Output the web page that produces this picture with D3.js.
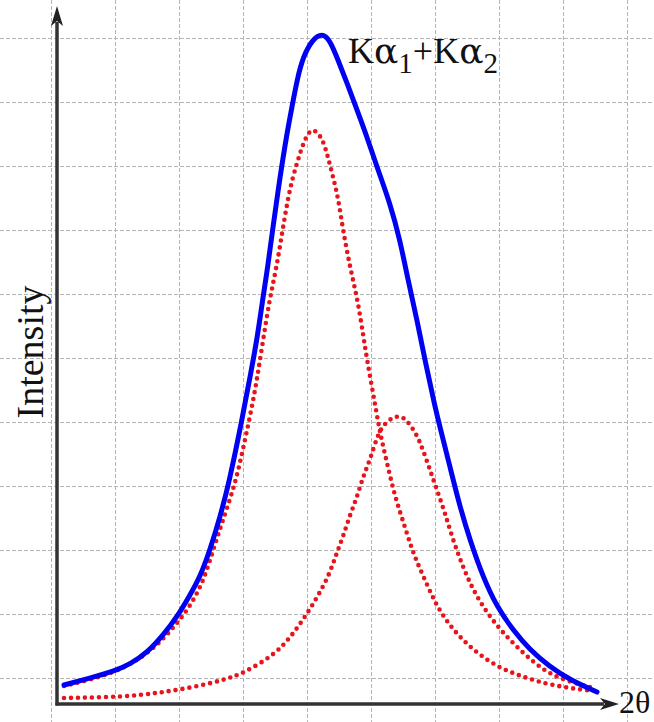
<!DOCTYPE html>
<html>
<head>
<meta charset="utf-8">
<script src="https://cdn.jsdelivr.net/npm/d3@7"></script>
<style>
  body { margin: 0; background: #fff; }
  svg { display: block; }
  text { font-family: "Liberation Serif", "DejaVu Serif", serif; fill: #111; }
</style>
</head>
<body>
<svg width="654" height="722"></svg>
<script>
// values, arbitrary units: x = 2theta, y = intensity
let sumCurve = [[1.25,2.71],[5.36,3.57],[10.36,4.71],[13.04,5.71],[16.07,7.29],[19.11,10.0],
  [21.43,12.43],[23.75,15.57],[25.54,18.14],[27.32,22.0],[29.11,26.71],[30.71,31.57],
  [33.04,40.57],[34.46,46.71],[35.71,52.0],[36.79,58.14],[37.68,62.71],[38.57,68.14],
  [39.82,75.29],[41.07,81.57],[41.96,85.29],[42.86,89.14],[43.93,92.43],[45.54,94.86],
  [47.32,95.86],[48.75,94.86],[50.18,92.0],[51.79,88.71],[53.57,84.86],[55.36,81.0],
  [57.32,76.29],[59.46,71.57],[61.25,66.29],[62.68,60.57],[64.29,54.86],[65.71,49.14],
  [67.5,42.43],[68.39,39.57],[70.18,33.86],[71.96,28.14],[73.75,23.43],[76.07,18.14],
  [78.57,13.86],[81.43,10.57],[84.46,7.71],[88.04,5.29],[91.61,3.43],[96.43,1.71]];

let ka1Curve = [[1.25,2.57],[10.71,4.43],[16.61,7.43],[20.18,10.29],[23.75,13.86],[26.25,17.71],
  [28.04,22.43],[29.82,26.71],[31.61,31.0],[32.68,34.43],[34.46,41.0],[35.71,46.29],
  [36.79,52.0],[38.04,58.14],[39.29,62.71],[40.36,68.14],[41.61,73.86],[42.86,77.29],
  [43.75,79.57],[44.64,81.29],[45.54,82.14],[46.43,81.71],[47.5,80.57],[48.39,78.14],
  [49.29,75.29],[50.18,72.43],[51.07,67.71],[52.32,62.43],[53.57,58.14],[54.46,53.86],
  [55.36,49.14],[56.79,42.86],[57.68,38.71],[58.93,34.43],[60.36,29.57],[62.14,25.29],
  [63.57,21.57],[65.71,17.71],[67.86,13.86],[70.71,10.57],[74.29,7.71],[78.57,5.29],
  [83.21,3.86],[88.04,2.71],[93.93,2.0],[96.43,1.86]];

let ka2Curve = [[1.25,0.86],[11.96,1.0],[17.86,1.57],[23.75,2.29],[29.82,3.43],[33.39,4.43],
  [38.75,7.0],[41.61,9.43],[44.29,12.43],[46.61,15.43],[48.75,18.71],[50.0,21.71],
  [51.07,23.86],[52.32,27.0],[53.57,29.57],[54.64,32.43],[55.89,34.86],[57.14,38.14],
  [58.21,39.86],[60.0,41.0],[61.25,41.14],[62.5,40.57],[64.29,38.43],[65.36,36.29],
  [66.61,33.43],[67.86,30.57],[69.29,27.29],[70.71,23.43],[72.5,19.57],[74.29,16.29],
  [76.79,13.0],[79.64,10.14],[83.21,7.29],[86.79,4.86],[90.36,3.43],[95.18,2.43]];

let peakLabel = ['K','\u03b1','1','+','K','\u03b1','2'];
let xLabel = '2\u03b8';
let yLabel = 'Intensity';

const svg = d3.select('svg');
const W = 654, H = 722;

let xScale = d3.scaleLinear().domain([0,100]).range([57,617]);
let yScale = d3.scaleLinear().domain([0,100]).range([704,4]);

// background grid
let gridX = d3.scaleLinear().domain([0,9]).range([51,627]);
let gridY = d3.scaleLinear().domain([0,10]).range([38,678]);
let grid = svg.append('g').attr('id','grid')
  .attr('stroke','#b5b5b5').attr('stroke-width',1).attr('stroke-dasharray','4,2');
grid.selectAll('.gv').data(d3.range(0,10)).enter().append('line')
  .attr('class','gv')
  .attr('x1',d=>gridX(d)+0.5).attr('x2',d=>gridX(d)+0.5)
  .attr('y1',0).attr('y2',H);
grid.selectAll('.gh').data(d3.range(0,11)).enter().append('line')
  .attr('class','gh')
  .attr('y1',d=>gridY(d)+0.5).attr('y2',d=>gridY(d)+0.5)
  .attr('x1',0).attr('x2',W);

let line = d3.line()
  .x(d=>xScale(d[0]))
  .y(d=>yScale(d[1]))
  .curve(d3.curveBasis);

// component peaks, dotted
svg.selectAll('.comp').data([ka1Curve, ka2Curve]).enter().append('path')
  .attr('class','comp')
  .attr('d',line)
  .attr('fill','none')
  .attr('stroke','#e8141c')
  .attr('stroke-width',4.6)
  .attr('stroke-linecap','round')
  .attr('stroke-dasharray','0,7');

// sum
svg.append('path')
  .attr('d',line(sumCurve))
  .attr('fill','none')
  .attr('stroke','#0000f2')
  .attr('stroke-width',5)
  .attr('stroke-linejoin','round')
  .attr('stroke-linecap','round');

// axes with arrows
let axes = svg.append('g').attr('id','axes');
axes.append('line')
  .attr('x1',xScale(0)).attr('x2',xScale(0))
  .attr('y1',yScale(0)+1.5).attr('y2',22)
  .attr('stroke','#333').attr('stroke-width',3.5);
axes.append('path')
  .attr('d','M'+(xScale(0)-6)+',26 L'+xScale(0)+',6 L'+(xScale(0)+6)+',26 L'+xScale(0)+',21 Z')
  .attr('fill','#222');
axes.append('line')
  .attr('x1',xScale(0)-1.5).attr('x2',604)
  .attr('y1',yScale(0)).attr('y2',yScale(0))
  .attr('stroke','#333').attr('stroke-width',3.5);
axes.append('path')
  .attr('d','M600,'+(yScale(0)-6)+' L619,'+yScale(0)+' L600,'+(yScale(0)+6)+' L605,'+yScale(0)+' Z')
  .attr('fill','#222');

svg.append('text')
  .attr('transform','translate(43,352) rotate(-90)')
  .attr('text-anchor','middle')
  .style('font-size','38px')
  .text(yLabel);

svg.append('text')
  .attr('x',619).attr('y',713)
  .style('font-size','32px')
  .text(xLabel);

let lab = svg.append('text').attr('x',348).attr('y',63).style('font-size','36px');
peakLabel.forEach((s,i)=>{
  let sub = (s==='1' || s==='2');
  let prevSub = i>0 && (peakLabel[i-1]==='1' || peakLabel[i-1]==='2');
  let t = lab.append('tspan')
    .attr('dy', sub ? 10 : (prevSub ? -10 : 0))
    .style('font-size', sub ? '29px' : '36px')
    .text(s);
  if (s==='\u03b1') t.style('font-family','"DejaVu Serif", serif');
});
</script>
</body>
</html>
